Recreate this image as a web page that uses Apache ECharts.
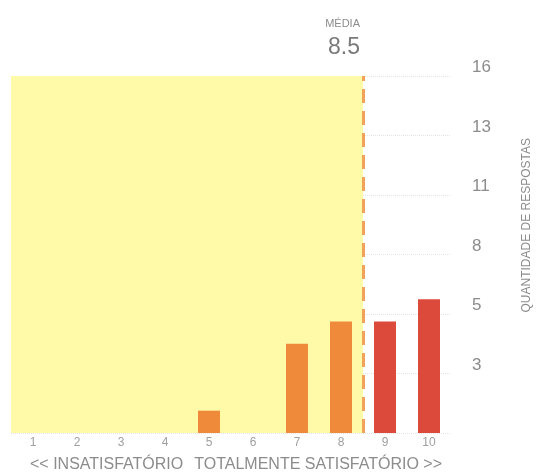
<!DOCTYPE html>
<html>
<head>
<meta charset="utf-8">
<script src="https://cdn.jsdelivr.net/npm/echarts@6/dist/echarts.min.js"></script>
<style>html,body{margin:0;padding:0;background:#fff}#c{width:536px;height:476px}</style>
</head>
<body>
<div id="c"></div>
<script>
const categories = ['1','2','3','4','5','6','7','8','9','10'];
const counts = [0,0,0,0,1,0,4,5,5,6];
const yMax = 16;
const ySteps = 6;

let total = 0, sum = 0;
counts.forEach((c,i)=>{ total += c; sum += c * (i+1); });
const mean = Math.round(sum/total*10)/10;

const chart = echarts.init(document.getElementById('c'));
const FONT = '"Liberation Sans", Arial, sans-serif';
chart.setOption({
  animation: false,
  textStyle: { fontFamily: FONT },
  grid: { left: 11, right: 85, top: 76, bottom: 43 },
  xAxis: [
    {
      type: 'category', data: categories, boundaryGap: true,
      axisLine: { show: false }, axisTick: { show: false },
      axisLabel: { color: '#a0a0a0', fontSize: 12, margin: 4 }
    },
    { type: 'value', min: 0.5, max: 10.5, show: false }
  ],
  yAxis: {
    type: 'value', position: 'right', min: 0, max: yMax, interval: yMax/ySteps,
    axisLine: { show: false }, axisTick: { show: false },
    axisLabel: { color: '#8c8c8c', fontSize: 17, margin: 21, verticalAlign: 'bottom',
      formatter: v => v === 0 ? '' : String(Math.round(v)) },
    splitLine: { show: true, lineStyle: { color: '#e4e4e4', type: 'dotted', width: 1 } }
  },
  graphic: [
    { type: 'text', right: 176, top: 18, style: { text: 'MÉDIA', fill: '#8c8c8c', font: '11px ' + FONT, textAlign: 'right' } },
    { type: 'text', right: 176, top: 36, style: { text: mean.toFixed(1), fill: '#7a7a7a', font: '23px ' + FONT } },
    { type: 'text', left: 521, top: 138, rotation: Math.PI/2, style: { text: 'QUANTIDADE DE RESPOSTAS', fill: '#8c8c8c', font: '12px ' + FONT } },
    { type: 'text', left: 30, top: 457, style: { text: '<< INSATISFATÓRIO', fill: '#8c8c8c', font: '16px ' + FONT } },
    { type: 'text', right: 94, top: 457, style: { text: 'TOTALMENTE SATISFATÓRIO >>', fill: '#8c8c8c', font: '16px ' + FONT } }
  ],
  series: [
    {
      type: 'bar', z: 3, barWidth: 22,
      data: counts.map((v,i)=>({ value: v, itemStyle: { color: (i+1) >= 9 ? '#DC4A3B' : '#EF8A3B' } }))
    },
    {
      type: 'line', xAxisIndex: 1, z: 1, symbol: 'none', data: [[mean, 0]],
      silent: true,
      markArea: {
        silent: true,
        itemStyle: { color: '#FFFAA8' },
        data: [[ { xAxis: 0.5, yAxis: 0 }, { xAxis: mean, yAxis: yMax } ]]
      },
      markLine: {
        silent: true, symbol: 'none',
        label: { show: false },
        lineStyle: { color: '#F2A35A', width: 3, type: [14, 8] },
        data: [[ { xAxis: mean, yAxis: 0 }, { xAxis: mean, yAxis: yMax } ]]
      }
    }
  ]
});
</script>
</body>
</html>
